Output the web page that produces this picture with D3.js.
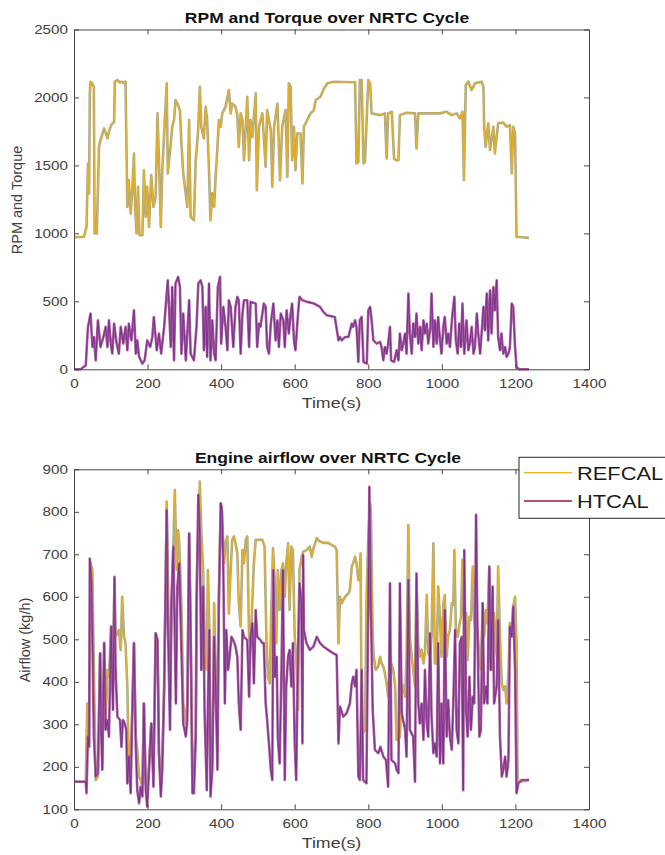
<!DOCTYPE html>
<html>
<head>
<meta charset="utf-8">
<script src="https://cdn.jsdelivr.net/npm/d3@7"></script>
<style>
	body { margin: 0; background: #fff; }
	text { font-family: "Liberation Sans", Arial, sans-serif; }
</style>
</head>
<body>
<svg id="chart"></svg>
<script>
// tick values
const timeTicks = [0, 200, 400, 600, 800, 1000, 1200, 1400];
const rpmTicks = [0, 500, 1000, 1500, 2000, 2500];
const airTicks = [100, 200, 300, 400, 500, 600, 700, 800, 900];
const legendLabels = ["REFCAL", "HTCAL"];

// [time (s), value]
const rpm = [[0,972],[27,975],[34,1048],[38,1514],[41,1294],[43,2030],[45,2116],[50,2100],[54,2079],[56,999],[62,999],[68,1637],[72,1686],[82,1772],[91,1699],[95,1748],[101,1797],[109,1821],[111,2116],[118,2128],[125,2110],[130,2116],[136,2104],[140,2116],[145,1195],[149,1392],[154,1146],[159,1343],[163,1588],[166,1195],[170,999],[174,1343],[178,987],[186,987],[190,1465],[195,1122],[199,1343],[204,1048],[210,1429],[216,1195],[222,1269],[227,1883],[231,1539],[236,1048],[240,1465],[252,2104],[255,1441],[263,1662],[267,1785],[272,1834],[276,1981],[281,1956],[288,1907],[292,1662],[297,1441],[308,1195],[313,1834],[317,1122],[326,1097],[331,1539],[337,1735],[342,2079],[346,1785],[353,1699],[358,1932],[362,1834],[367,1465],[371,1097],[376,1294],[381,1195],[385,1416],[390,1637],[394,1834],[399,1785],[403,1883],[412,1932],[421,2055],[426,1883],[430,1956],[439,1932],[444,1870],[448,1637],[453,1883],[458,1834],[462,1539],[467,1785],[471,2005],[476,1539],[480,1834],[485,1710],[494,2030],[497,1318],[503,1785],[512,1883],[521,1490],[525,1907],[535,1760],[539,1343],[544,1785],[553,1956],[560,1392],[566,1785],[575,1907],[580,1416],[584,2104],[589,2079],[593,1539],[598,1785],[602,1465],[607,1735],[616,1735],[621,1367],[625,1785],[634,1834],[643,1883],[652,1907],[657,1981],[670,2005],[680,2067],[689,2104],[706,2116],[764,2112],[768,1514],[773,1527],[777,2128],[782,2128],[787,1514],[791,1527],[800,2128],[805,2104],[809,1883],[832,1870],[845,1883],[850,1551],[854,1883],[864,1895],[870,1551],[875,1539],[882,1539],[886,1870],[904,1888],[927,1883],[931,1625],[936,1883],[968,1883],[995,1883],[1013,1895],[1027,1870],[1040,1883],[1049,1846],[1056,1895],[1060,1392],[1065,2091],[1072,2116],[1081,2055],[1090,2104],[1108,2116],[1113,2079],[1115,1785],[1119,1637],[1126,1810],[1131,1613],[1140,1785],[1144,1588],[1153,1810],[1167,1815],[1176,1785],[1185,1797],[1190,1441],[1194,1785],[1199,1735],[1203,975],[1237,967]];

const torque = [[0,0],[18,0],[32,29],[38,312],[45,410],[50,164],[54,238],[59,66],[65,361],[72,164],[80,238],[86,312],[91,164],[95,361],[100,189],[104,115],[109,336],[116,189],[122,115],[127,312],[134,189],[140,312],[145,140],[149,336],[156,213],[163,434],[168,115],[172,213],[177,91],[186,42],[192,66],[199,213],[207,164],[213,238],[217,385],[225,140],[231,263],[237,115],[245,312],[252,557],[255,655],[263,164],[267,606],[272,66],[276,631],[283,680],[288,606],[292,115],[297,410],[304,66],[308,263],[313,508],[317,115],[326,66],[333,312],[338,631],[344,655],[349,606],[353,140],[358,459],[362,91],[367,631],[371,66],[376,361],[381,115],[385,66],[391,606],[397,680],[400,189],[406,459],[412,312],[417,140],[421,508],[426,459],[433,164],[439,459],[444,533],[448,508],[453,115],[458,410],[462,508],[471,508],[476,164],[480,496],[494,484],[498,164],[503,336],[507,312],[516,484],[521,459],[525,164],[530,115],[535,336],[542,484],[548,213],[553,361],[557,164],[562,410],[569,361],[573,164],[578,434],[584,263],[589,410],[593,484],[598,213],[602,140],[609,410],[613,533],[621,508],[634,496],[652,484],[669,459],[678,422],[687,398],[709,385],[719,213],[723,238],[728,213],[737,238],[746,238],[755,336],[759,312],[764,361],[768,312],[773,54],[777,361],[782,385],[787,54],[796,42],[800,434],[805,459],[809,361],[814,213],[823,189],[832,201],[836,164],[841,66],[845,164],[850,115],[854,189],[859,312],[862,66],[870,54],[877,140],[882,66],[886,263],[891,140],[895,189],[900,263],[904,115],[909,557],[913,263],[918,115],[922,336],[927,238],[931,410],[936,189],[941,312],[945,140],[950,361],[954,263],[959,336],[963,189],[969,312],[972,557],[977,164],[981,361],[986,189],[990,385],[995,213],[999,115],[1004,312],[1008,385],[1013,189],[1017,263],[1022,164],[1028,385],[1034,533],[1038,213],[1043,115],[1047,336],[1052,164],[1056,484],[1061,115],[1067,361],[1072,140],[1076,189],[1081,312],[1086,115],[1090,164],[1095,410],[1099,263],[1104,115],[1108,263],[1113,459],[1117,287],[1122,557],[1126,213],[1131,582],[1135,263],[1140,606],[1144,434],[1149,655],[1153,238],[1158,140],[1162,263],[1167,115],[1172,164],[1176,91],[1181,115],[1185,164],[1190,484],[1194,459],[1199,164],[1203,17],[1210,0],[1237,0]];

const airflowRef = [[0,165],[32,165],[36,349],[41,247],[45,679],[50,663],[54,428],[59,169],[65,177],[71,467],[77,208],[82,491],[86,310],[91,428],[95,412],[101,530],[106,428],[110,640],[113,506],[118,514],[122,522],[127,475],[131,600],[136,506],[140,491],[145,389],[149,193],[154,232],[159,349],[163,491],[168,271],[172,240],[177,177],[181,169],[186,153],[190,349],[195,161],[199,145],[204,208],[210,302],[216,193],[222,514],[227,498],[231,232],[236,161],[240,232],[245,381],[252,824],[255,663],[261,349],[265,585],[270,718],[274,851],[279,663],[283,757],[286,726],[292,585],[297,349],[304,302],[308,349],[313,749],[317,522],[322,193],[326,193],[331,287],[335,663],[342,871],[346,757],[351,663],[355,522],[361,428],[364,663],[368,522],[371,193],[376,208],[381,585],[385,428],[390,349],[394,600],[399,820],[402,804],[408,679],[412,726],[417,742],[421,561],[426,663],[430,734],[435,742],[439,726],[444,702],[448,585],[453,530],[458,710],[462,679],[467,734],[471,742],[476,506],[480,483],[489,679],[494,734],[503,734],[512,734],[518,718],[523,506],[527,412],[532,396],[536,561],[541,714],[545,647],[550,491],[554,663],[559,569],[564,663],[568,679],[573,600],[577,679],[582,726],[586,569],[591,718],[595,710],[600,506],[604,459],[609,334],[613,663],[619,694],[623,706],[632,710],[641,718],[646,694],[651,714],[660,738],[669,730],[678,727],[691,727],[700,722],[709,718],[714,710],[719,490],[723,600],[728,585],[732,592],[737,600],[741,604],[746,608],[750,616],[755,671],[759,679],[764,694],[768,679],[773,639],[777,647],[779,702],[782,287],[786,279],[791,287],[795,585],[800,742],[805,820],[807,804],[812,506],[815,459],[820,428],[827,436],[832,459],[836,443],[841,436],[845,420],[850,396],[854,365],[859,389],[863,443],[868,428],[873,389],[877,263],[882,263],[886,271],[891,396],[895,389],[900,365],[904,459],[909,769],[913,506],[918,459],[922,428],[927,389],[931,640],[936,483],[940,459],[945,475],[950,443],[954,467],[959,604],[963,467],[968,459],[972,506],[977,726],[981,443],[986,443],[990,624],[995,545],[999,459],[1004,585],[1008,604],[1013,459],[1017,506],[1022,522],[1027,585],[1031,581],[1034,710],[1038,522],[1043,506],[1047,530],[1052,553],[1056,687],[1061,506],[1066,561],[1070,451],[1075,553],[1079,545],[1084,671],[1088,545],[1093,506],[1097,522],[1102,459],[1106,428],[1111,585],[1115,506],[1120,569],[1124,538],[1129,671],[1133,545],[1138,428],[1142,561],[1149,459],[1153,671],[1158,506],[1163,396],[1167,381],[1172,389],[1176,349],[1181,420],[1185,538],[1190,506],[1194,577],[1199,600],[1203,491],[1206,169],[1212,165],[1237,169]];

const airflowHt = [[0,165],[32,165],[34,138],[38,271],[41,247],[43,690],[47,640],[50,506],[54,271],[59,177],[65,185],[71,467],[74,287],[77,193],[82,491],[86,287],[91,310],[95,271],[101,530],[106,334],[110,647],[113,428],[118,318],[125,310],[129,247],[133,310],[138,302],[142,287],[145,161],[149,224],[154,138],[159,349],[163,491],[168,247],[172,145],[177,114],[181,153],[186,130],[190,349],[195,145],[199,106],[204,193],[210,302],[216,153],[222,514],[227,498],[231,232],[236,130],[240,193],[245,381],[252,804],[255,545],[261,287],[265,585],[270,718],[274,506],[277,349],[281,624],[286,679],[292,475],[297,302],[304,271],[308,310],[313,749],[317,522],[322,138],[326,138],[331,271],[333,585],[338,840],[342,742],[346,428],[351,624],[355,326],[361,145],[364,349],[368,522],[371,130],[376,193],[381,506],[385,389],[390,193],[394,600],[399,820],[402,804],[406,663],[410,349],[414,522],[419,428],[423,459],[428,506],[433,498],[439,483],[444,459],[448,349],[453,287],[458,522],[462,506],[471,498],[476,365],[480,506],[485,538],[489,396],[494,569],[498,506],[507,498],[512,491],[516,491],[521,349],[525,310],[530,255],[535,193],[539,169],[542,663],[546,412],[551,459],[554,271],[559,208],[564,428],[568,663],[573,169],[577,389],[582,459],[586,475],[591,389],[595,491],[600,255],[604,169],[609,467],[613,632],[618,585],[621,255],[623,698],[625,522],[632,491],[641,475],[651,483],[660,506],[669,491],[678,483],[691,475],[705,467],[714,463],[719,255],[723,342],[732,318],[741,326],[750,349],[755,396],[759,412],[764,389],[768,428],[773,177],[777,169],[782,428],[786,169],[795,161],[800,585],[803,859],[806,624],[812,334],[818,240],[827,232],[833,247],[841,224],[848,216],[854,153],[859,632],[863,216],[873,208],[877,193],[882,185],[886,632],[891,326],[900,287],[904,224],[909,640],[913,287],[922,271],[927,165],[931,655],[936,349],[940,302],[945,349],[950,263],[954,428],[959,302],[963,271],[968,514],[972,318],[977,232],[981,255],[986,224],[990,491],[995,208],[999,349],[1004,208],[1008,569],[1013,271],[1017,357],[1022,271],[1027,240],[1031,349],[1036,522],[1040,287],[1045,255],[1049,491],[1054,506],[1058,145],[1061,710],[1066,334],[1070,271],[1075,412],[1079,287],[1084,365],[1088,349],[1093,793],[1097,506],[1102,271],[1106,287],[1111,585],[1115,349],[1120,389],[1124,349],[1129,671],[1133,428],[1138,624],[1142,349],[1149,389],[1153,545],[1158,271],[1163,177],[1167,193],[1172,224],[1176,177],[1181,216],[1185,530],[1190,506],[1194,577],[1199,428],[1203,138],[1208,161],[1217,169],[1237,169]];

const width = 665;
const height = 855;
const stretch = 1.27; // the figure was widened, text is too
const axisColor = "#474747";
const textColor = "#404040";
const gold = "#EDB120";
const olive = "#aeaa7e";
const purple = "#7E2F8E";
const pink = "#a8619f";

const svg = d3.select("#chart")
	.attr("width", width)
	.attr("height", height);

const x = d3.scaleLinear().domain([0, 1400]).range([74, 589]);
const yTop = d3.scaleLinear().domain([0, 2500]).range([369.3, 29.5]);
const yBot = d3.scaleLinear().domain([100, 900]).range([809.3, 469.3]);

function drawSeries(data, y, halo, core) {
	const line = d3.line().x(d => x(d[0])).y(d => y(d[1]));
	svg.append("path")
		.datum(data)
		.attr("fill", "none")
		.attr("stroke", halo)
		.attr("stroke-width", 2.6)
		.attr("stroke-linejoin", "round")
		.attr("d", line);
	svg.append("path")
		.datum(data)
		.attr("fill", "none")
		.attr("stroke", core)
		.attr("stroke-width", 1)
		.attr("stroke-linejoin", "round")
		.attr("d", line);
}

function drawAxes(y, ticks) {
	const [bottom, top] = y.range();
	const g = svg.append("g");

	const styleAxis = sel => {
		sel.attr("font-size", 12).attr("font-family", null);
		sel.select(".domain").attr("stroke", axisColor);
		sel.selectAll(".tick line").attr("stroke", axisColor);
		sel.selectAll(".tick text").attr("fill", textColor);
	};

	g.append("g")
		.attr("transform", `translate(0,${bottom})`)
		.call(d3.axisBottom(x).tickValues(timeTicks).tickFormat(d3.format("d"))
			.tickSizeInner(-5).tickSizeOuter(0).tickPadding(10.5))
		.call(styleAxis)
		.selectAll(".tick text")
		.attr("transform", `scale(${stretch},1)`);

	g.append("g")
		.attr("transform", `translate(0,${top})`)
		.call(d3.axisTop(x).tickValues(timeTicks).tickSizeInner(-5).tickSizeOuter(0).tickFormat(""))
		.call(styleAxis);

	g.append("g")
		.attr("transform", `translate(74,0)`)
		.call(d3.axisLeft(y).tickValues(ticks).tickFormat(d3.format("d"))
			.tickSizeInner(-5).tickSizeOuter(0).tickPadding(6 / stretch))
		.call(styleAxis)
		.selectAll(".tick text")
		.attr("transform", `scale(${stretch},1)`);

	g.append("g")
		.attr("transform", `translate(589,0)`)
		.call(d3.axisRight(y).tickValues(ticks).tickSizeInner(-5).tickSizeOuter(0).tickFormat(""))
		.call(styleAxis);
}

function label(text, px, py, opts) {
	svg.append("text")
		.attr("transform", `translate(${px},${py}) scale(${opts.sx || stretch},1)${opts.rotate ? " rotate(-90)" : ""}`)
		.attr("text-anchor", opts.anchor || "middle")
		.attr("font-size", opts.size)
		.attr("font-weight", opts.bold ? "bold" : null)
		.attr("fill", opts.color || textColor)
		.text(text);
}

// top: RPM and torque
drawSeries(rpm, yTop, olive, gold);
drawSeries(torque, yTop, pink, purple);
drawAxes(yTop, rpmTicks);
label("RPM and Torque over NRTC Cycle", 327, 22.5, { size: 14, bold: true, sx: 1.25, color: "#111" });
label("Time(s)", 331.5, 408, { size: 14 });
label("RPM and Torque", 22.2, 200, { size: 14.5, sx: 1, rotate: true });

// bottom: airflow
drawSeries(airflowRef, yBot, olive, gold);
drawSeries(airflowHt, yBot, pink, purple);
drawAxes(yBot, airTicks);
label("Engine airflow over NRTC Cycle", 328, 463, { size: 14, bold: true, sx: 1.25, color: "#111" });
label("Time(s)", 331.5, 848, { size: 14 });
label("Airflow (kg/h)", 30.2, 640, { size: 14.5, sx: 1, rotate: true });

// legend
const legend = svg.append("g");
legend.append("rect")
	.attr("x", 519)
	.attr("y", 457.3)
	.attr("width", 150)
	.attr("height", 61)
	.attr("fill", "#fff")
	.attr("stroke", "#262626");

const legendColors = [gold, "#A2142F"];
const legendRows = [472.7, 501];
legendLabels.forEach((name, i) => {
	legend.append("line")
		.attr("x1", 524)
		.attr("x2", 572)
		.attr("y1", legendRows[i])
		.attr("y2", legendRows[i])
		.attr("stroke", legendColors[i])
		.attr("stroke-width", 1.3);
	label(name, 577, legendRows[i] + 7.3, { size: 19, sx: 1.15, anchor: "start", color: "#1a1a1a" });
});
</script>
</body>
</html>
